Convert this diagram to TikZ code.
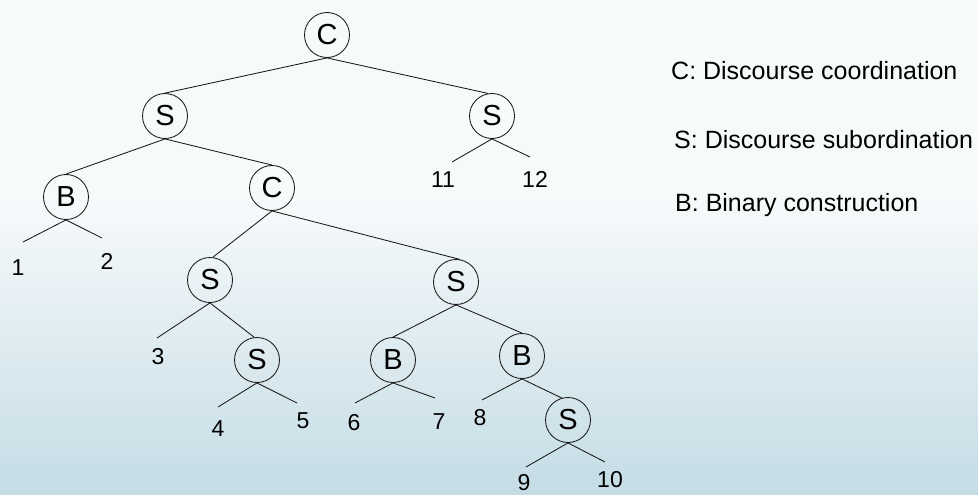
\documentclass[tikz,border=0pt]{standalone}
\usepackage{fontspec}
\setmainfont{Liberation Sans}
\definecolor{bgtop}{RGB}{247,250,251}
\definecolor{bgbot}{RGB}{196,220,229}
\definecolor{ink}{RGB}{25,25,25}
\tikzset{
  tnode/.style={circle, draw=ink, line width=0.85pt, minimum size=45pt, inner sep=0pt,
    font=\fontsize{29}{31}\selectfont, text=black},
  leaf/.style={inner sep=0pt, font=\fontsize{23}{25}\selectfont, text=black},
  legend/.style={inner sep=0pt, anchor=base west, font=\fontsize{25}{27}\selectfont, text=black},
  edge/.style={draw=ink, line width=0.85pt}
}
\begin{document}
\begin{tikzpicture}[x=1pt,y=-1pt]
\useasboundingbox (0,0) rectangle (978,495);
\fill[bgtop] (0,0) rectangle (978,495);
\shade[top color=bgtop, bottom color=bgbot] (0,200) rectangle (978,495);

% internal nodes
\node[tnode] (root) at (327,35) {C};
\node[tnode] (sl) at (165,116) {S};
\node[tnode] (sr) at (492,116) {S};
\node[tnode] (b1) at (66,197) {B};
\node[tnode] (c2) at (272,188) {C};
\node[tnode] (s3) at (210,280) {S};
\node[tnode] (s4) at (456,282) {S};
\node[tnode] (s5) at (257,360) {S};
\node[tnode] (b6) at (393,360) {B};
\node[tnode] (b8) at (522,356) {B};
\node[tnode] (s9) at (568,420) {S};

% leaves
\node[leaf] (n1) at (18,268) {1};
\node[leaf] (n2) at (107,261) {2};
\node[leaf] (n11) at (443,180) {11};
\node[leaf] (n12) at (535,179) {12};
\node[leaf] (n3) at (158,357) {3};
\node[leaf] (n4) at (218,429) {4};
\node[leaf] (n5) at (303,421) {5};
\node[leaf] (n6) at (354,423) {6};
\node[leaf] (n7) at (439,422) {7};
\node[leaf] (n8) at (480,418) {8};
\node[leaf] (n9) at (524,483) {9};
\node[leaf] (n10) at (610,480) {10};

% leaf edge ends
\coordinate (e1) at (23,242);
\coordinate (e2) at (102,238);
\coordinate (e11) at (452,162);
\coordinate (e12) at (530,157);
\coordinate (e3) at (157,338);
\coordinate (e4) at (218,407);
\coordinate (e5) at (297,403);
\coordinate (e6) at (355,403);
\coordinate (e7) at (435,398);
\coordinate (e8) at (482,400);
\coordinate (e9) at (526,467);
\coordinate (e10) at (605,462);

% edges
\draw[edge] (root.south) -- (sl.north);
\draw[edge] (root.south) -- (sr.100);
\draw[edge] (sl.south) -- (b1.north);
\draw[edge] (sl.south) -- (c2.north);
\draw[edge] (sr.south) -- (e11);
\draw[edge] (sr.south) -- (e12);
\draw[edge] (b1.south) -- (e1);
\draw[edge] (b1.south) -- (e2);
\draw[edge] (c2.south) -- (s3.83);
\draw[edge] (c2.south) -- (s4.80);
\draw[edge] (s3.south) -- (e3);
\draw[edge] (s3.south) -- (s5.97);
\draw[edge] (s5.south) -- (e4);
\draw[edge] (s5.south) -- (e5);
\draw[edge] (s4.south) -- (b6.north);
\draw[edge] (s4.south) -- (b8.north);
\draw[edge] (b6.south) -- (e6);
\draw[edge] (b6.south) -- (e7);
\draw[edge] (b8.south) -- (e8);
\draw[edge] (b8.south) -- (s9.106);
\draw[edge] (s9.south) -- (e9);
\draw[edge] (s9.south) -- (e10);

% legend
\node[legend] (lc) at (671,80) {C: Discourse coordination};
\node[legend] (ls) at (674,148) {S: Discourse subordination};
\node[legend] (lb) at (675,211) {B: Binary construction};
\end{tikzpicture}
\end{document}
